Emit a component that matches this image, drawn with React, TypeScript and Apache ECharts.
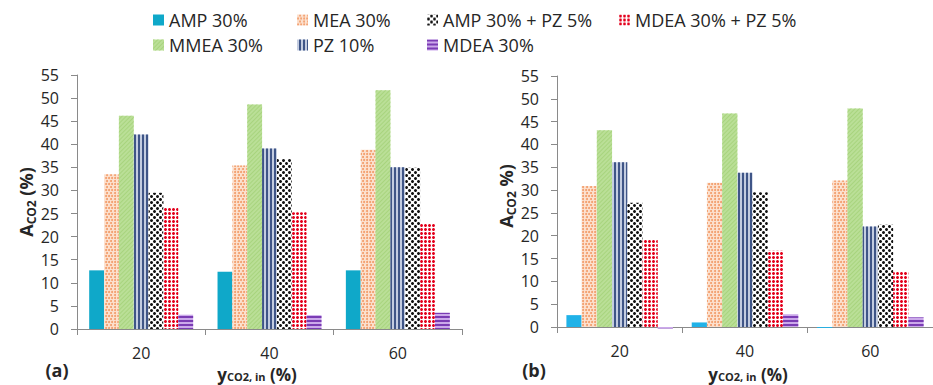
import React, { useEffect, useRef } from "react";
import * as echarts from "echarts";

const categories = ["20", "40", "60"];
const seriesNames = [
  "AMP 30%",
  "MEA 30%",
  "MMEA 30%",
  "PZ 10%",
  "AMP 30% + PZ 5%",
  "MDEA 30% + PZ 5%",
  "MDEA 30%",
];

const leftAMP = [12.7, 12.4, 12.7];
const leftMEA = [33.5, 35.4, 38.8];
const leftMMEA = [46.2, 48.6, 51.7];
const leftPZ = [42.1, 39.1, 35.0];
const leftAMPPZ = [29.5, 36.8, 34.9];
const leftMDEAPZ = [26.3, 25.3, 22.9];
const leftMDEA = [3.1, 3.0, 3.5];

const rightAMP = [2.6, 1.0, -0.2];
const rightMEA = [30.9, 31.6, 32.1];
const rightMMEA = [43.1, 46.8, 47.9];
const rightPZ = [36.1, 33.8, 22.0];
const rightAMPPZ = [27.2, 29.5, 22.4];
const rightMDEAPZ = [19.1, 16.7, 12.1];
const rightMDEA = [-0.3, 2.8, 2.1];

const leftData = [leftAMP, leftMEA, leftMMEA, leftPZ, leftAMPPZ, leftMDEAPZ, leftMDEA];
const rightData = [rightAMP, rightMEA, rightMMEA, rightPZ, rightAMPPZ, rightMDEAPZ, rightMDEA];

const yTicks = { min: 0, max: 55, interval: 5 };

const FONT = "'Open Sans', 'Noto Sans', sans-serif";
const TXT = "#262626";
const AX = "#8a8a8a";

const styles: any[] = [
  { color: "#0FA8C9" },
  {
    color: "#FCE1CF",
    decal: {
      symbol: "circle",
      symbolSize: 1,
      color: "#F29B68",
      dashArrayX: [[2, 1], [0, 1.5, 2, 0]],
      dashArrayY: [2, 0.5],
    },
  },
  {
    color: "#BADF97",
    decal: {
      symbol: "rect",
      symbolSize: 1,
      color: "#A8D47E",
      dashArrayX: [1, 0],
      dashArrayY: [1, 2],
      rotation: -Math.PI / 4,
    },
  },
  {
    color: "#C3CCE0",
    decal: {
      symbol: "rect",
      symbolSize: 1,
      color: "#3F5587",
      dashArrayX: [1, 0],
      dashArrayY: [1.5, 1.5],
      rotation: Math.PI / 2,
    },
  },
  {
    color: "#FFFFFF",
    decal: {
      symbol: "circle",
      symbolSize: 1,
      color: "#111111",
      dashArrayX: [[3, 3], [0, 3, 3, 0]],
      dashArrayY: [3, 0],
    },
  },
  {
    color: "#FFFFFF",
    decal: {
      symbol: "circle",
      symbolSize: 1,
      color: "#E3001B",
      dashArrayX: [3, 1],
      dashArrayY: [3, 1],
    },
  },
  {
    color: "#CBA9EA",
    decal: {
      symbol: "rect",
      symbolSize: 1,
      color: "#7A3CB4",
      dashArrayX: [1, 0],
      dashArrayY: [1.5, 1.5],
    },
  },
];

const rightStyles = styles.map((s, i) => (i === 0 ? { color: "#20B2E8" } : s));

function makeSeries(data: number[][], axis: number, gap: string, st: any[]) {
  return data.map((d, i) => ({
    type: "bar",
    name: seriesNames[i],
    xAxisIndex: axis,
    yAxisIndex: axis,
    data: d,
    barGap: "0%",
    barCategoryGap: gap,
    clip: false,
    itemStyle: st[i],
  }));
}

function xAxis(gridIndex: number) {
  return {
    type: "category",
    gridIndex,
    data: categories,
    axisLine: { lineStyle: { color: AX, width: 1 } },
    axisTick: { show: true, length: 6, lineStyle: { color: AX } },
    axisLabel: { color: TXT, fontSize: 16, fontFamily: FONT, margin: 15, lineHeight: 18 },
  };
}

function yAxis(gridIndex: number) {
  return {
    type: "value",
    gridIndex,
    ...yTicks,
    axisLine: { show: true, lineStyle: { color: AX, width: 1 } },
    axisTick: { show: true, length: 6, lineStyle: { color: AX } },
    axisLabel: { color: TXT, fontSize: 16, fontFamily: FONT, margin: 18 },
    splitLine: { show: false },
  };
}

function legendCol(left: number, names: string[]) {
  return {
    left,
    top: 10,
    orient: "vertical",
    padding: 0,
    itemGap: 5,
    itemWidth: 11,
    itemHeight: 11,
    icon: "rect",
    data: names,
    selectedMode: false,
    textStyle: { color: TXT, fontSize: 18, fontFamily: FONT, lineHeight: 20 },
  };
}

function makeRich(big: number, small: number, lh: number) {
  return {
    a: { fontSize: big, fontWeight: "bold", fontFamily: FONT, fill: TXT, lineHeight: lh },
    s: {
      fontSize: small,
      fontWeight: "bold",
      fontFamily: FONT,
      fill: TXT,
      lineHeight: small,
      verticalAlign: "bottom",
    },
  };
}

function titleText(x: number, y: number, text: string, rich: any, rotation = 0) {
  return {
    type: "text",
    x,
    y,
    rotation,
    style: {
      text,
      rich,
      align: "center",
      verticalAlign: "middle",
      fill: TXT,
    },
  };
}

const yRich = makeRich(18, 12, 22);
const xRich = makeRich(17, 11, 16);

export default function App() {
  const ref = useRef<HTMLDivElement>(null);
  useEffect(() => {
    document.body.style.margin = "0";
    const chart = echarts.init(ref.current!, undefined, { renderer: "svg" });
    chart.setOption({
      animation: false,
      grid: [
        { left: 77, top: 75, width: 385, bottom: 56 },
        { left: 557, top: 76, width: 390, bottom: 58 },
      ],
      legend: [
        legendCol(153, ["AMP 30%", "MMEA 30%"]),
        legendCol(297, ["MEA 30%", "PZ 10%"]),
        legendCol(427, ["AMP 30% + PZ 5%", "MDEA 30%"]),
        legendCol(619, ["MDEA 30% + PZ 5%"]),
      ],
      xAxis: [xAxis(0), xAxis(1)],
      yAxis: [yAxis(0), yAxis(1)],
      series: [
        ...makeSeries(leftData, 0, "19%", styles),
        ...makeSeries(rightData, 1, "15%", rightStyles),
      ],
      graphic: [
        titleText(26, 202, "{a|A}{s|CO2}{a| (%)}", yRich, Math.PI / 2),
        titleText(506, 196, "{a|A}{s|CO2}{a| %)}", yRich, Math.PI / 2),
        titleText(257, 374, "{a|y}{s|CO2, in}{a| (%)}", xRich),
        titleText(748, 374, "{a|y}{s|CO2, in}{a| (%)}", xRich),
        {
          type: "text",
          x: 57,
          y: 370,
          style: {
            text: "(a)",
            fontSize: 18,
            fontWeight: "bold",
            fontFamily: FONT,
            fill: TXT,
            align: "center",
            verticalAlign: "middle",
          },
        },
        {
          type: "text",
          x: 534,
          y: 370,
          style: {
            text: "(b)",
            fontSize: 18,
            fontWeight: "bold",
            fontFamily: FONT,
            fill: TXT,
            align: "center",
            verticalAlign: "middle",
          },
        },
      ],
    });
    return () => chart.dispose();
  }, []);
  return <div ref={ref} style={{ width: 933, height: 385 }} />;
}
